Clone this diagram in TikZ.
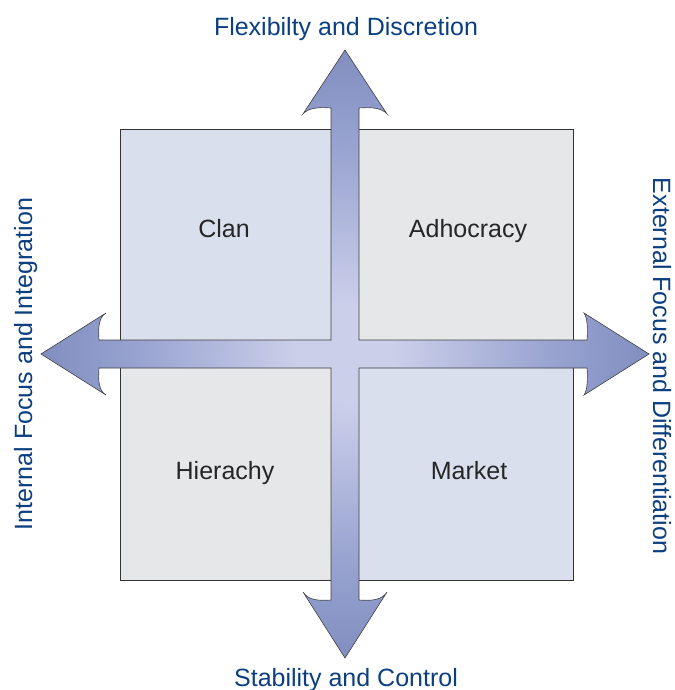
\documentclass[tikz,border=0pt]{standalone}
\usepackage{fontspec}
\setmainfont{Liberation Sans}
\definecolor{axisblue}{HTML}{0B3F80}
\definecolor{quadblue}{HTML}{DADFEE}
\definecolor{quadgray}{HTML}{E6E7E9}
\definecolor{glowin}{HTML}{CBCFEA}
\definecolor{glowmid}{HTML}{98A3D0}
\definecolor{glowout}{HTML}{6677AD}
\pgfdeclareradialshading{crossglow}{\pgfpoint{0bp}{0bp}}{color(0bp)=(glowin);
  color(4bp)=(glowin); color(17bp)=(glowmid); color(34bp)=(glowout); color(50bp)=(glowout)}

\begin{document}
\begin{tikzpicture}[x=1pt, y=-1pt,
    quad/.style={draw=black!80, line width=0.8pt},
    culture/.style={anchor=base, text=black!85, font=\fontsize{25}{30}\selectfont},
    axis/.style={anchor=base, text=axisblue, font=\fontsize{25}{30}\selectfont}]
    \useasboundingbox (0,0) rectangle (674,690);

    % the four culture quadrants
    \begin{scope}[every path/.style={quad}]
      \filldraw[fill=quadblue] (120,129) rectangle (332,340);
      \filldraw[fill=quadgray] (358,129) rectangle (573,340);
      \filldraw[fill=quadgray] (120,367) rectangle (332,580);
      \filldraw[fill=quadblue] (358,367) rectangle (573,580);
    \end{scope}
    \node[culture] (clan) at (224,237) {Clan};
    \node[culture] (adhoc) at (468,237) {Adhocracy};
    \node[culture] (hier) at (225,479) {Hierachy};
    \node[culture] (market) at (469,479) {Market};

    % double-headed cross of arrows
    \shadedraw[shading=crossglow, draw=black!75, line width=0.6pt]
      (331,108) .. controls (318,107) and (308,108) .. (303,114)
      -- (345,50) -- (387,114)
      .. controls (382,108) and (372,107) .. (359,108)
      -- (359,340) -- (587,340)
      .. controls (588,327) and (587,317) .. (584,313)
      -- (649,354) -- (584,395)
      .. controls (587,391) and (588,381) .. (587,368)
      -- (359,368) -- (359,600)
      .. controls (372,601) and (382,600) .. (387,592)
      -- (345,658) -- (303,592)
      .. controls (308,600) and (318,601) .. (331,600)
      -- (331,368) -- (99,368)
      .. controls (98,381) and (99,391) .. (106,395)
      -- (41,354) -- (106,313)
      .. controls (99,317) and (98,327) .. (99,340)
      -- (331,340) -- cycle;

    % axis captions
    \node[axis] (flex) at (346,36) {Flexibilty and Discretion};
    \node[axis] (stab) at (346,686) {Stability and Control};
    \node[axis, rotate=90] (internal) at (32,364) {Internal Focus and Integration};
    \node[axis, rotate=-90] (external) at (653,366) {External Focus and Differentiation};
\end{tikzpicture}
\end{document}
